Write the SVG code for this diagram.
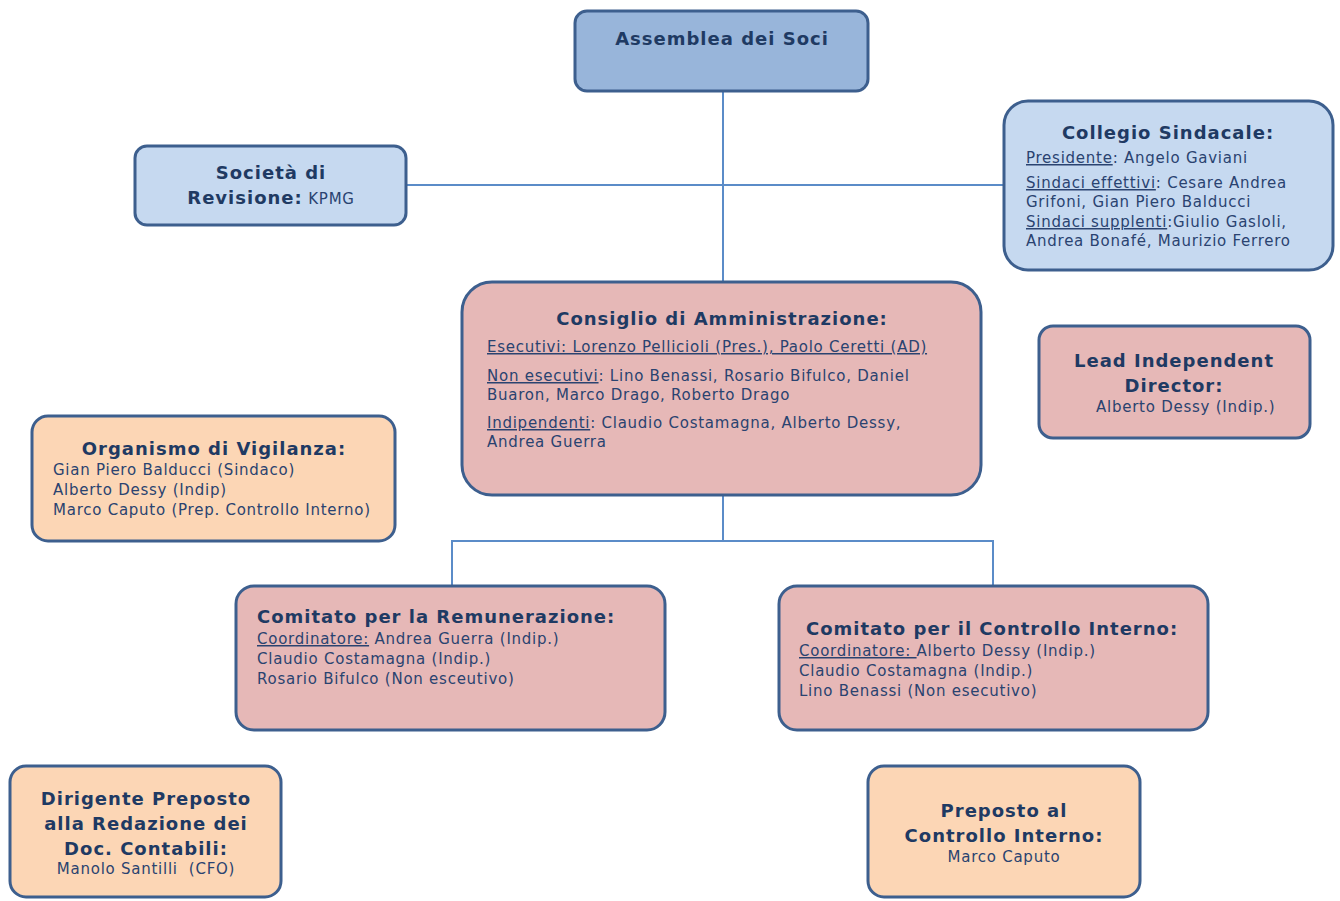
<svg xmlns="http://www.w3.org/2000/svg" width="1340" height="901" viewBox="0 0 1340 901">
<style>
.box{stroke:#3d5f8e;stroke-width:3}
.blue1{fill:#98b5da}
.blue2{fill:#c6d9f0}
.pink{fill:#e6b8b7}
.peach{fill:#fcd6b5}
.t{font-family:"DejaVu Sans",Verdana,sans-serif;fill:#1f3a63}
.b{font-weight:bold;font-size:18px;letter-spacing:1px}
.r{font-size:15px;fill:#2a4370;letter-spacing:0.75px;font-weight:normal}
.c{text-anchor:middle}
.u{text-decoration:underline}
.conn{stroke:#5b8cc8;stroke-width:2;fill:none}
</style>
<rect width="1340" height="901" fill="#ffffff"/>
<g id="connectors">
<line class="conn" x1="723" y1="91" x2="723" y2="282"/>
<line class="conn" x1="406" y1="185" x2="1004" y2="185"/>
<polyline class="conn" points="723,495 723,541"/>
<polyline class="conn" points="452,586 452,541 993,541 993,586"/>
</g>
<g id="assemblea">
<rect class="box blue1" x="575" y="11" width="293" height="80" rx="12"/>
<text class="t b c" x="722" y="45">Assemblea dei Soci</text>
</g>
<g id="societa">
<rect class="box blue2" x="135" y="146" width="271" height="79" rx="12"/>
<text class="t b c" x="271" y="179">Società di</text>
<text class="t b c" x="271" y="204">Revisione:<tspan class="r"> KPMG</tspan></text>
</g>
<g id="collegio">
<rect class="box blue2" x="1004" y="101" width="329" height="169" rx="24"/>
<text class="t b c" x="1168" y="139">Collegio Sindacale:</text>
<text class="t r" x="1026" y="163"><tspan class="u">Presidente</tspan>: Angelo Gaviani</text>
<text class="t r" x="1026" y="188"><tspan class="u">Sindaci effettivi</tspan>: Cesare Andrea</text>
<text class="t r" x="1026" y="207">Grifoni, Gian Piero Balducci</text>
<text class="t r" x="1026" y="227"><tspan class="u">Sindaci supplenti</tspan>:Giulio Gasloli,</text>
<text class="t r" x="1026" y="246">Andrea Bonafé, Maurizio Ferrero</text>
</g>
<g id="consiglio">
<rect class="box pink" x="462" y="282" width="519" height="213" rx="30"/>
<text class="t b c" x="722" y="325">Consiglio di Amministrazione:</text>
<text class="t r u" x="487" y="352">Esecutivi: Lorenzo Pellicioli (Pres.), Paolo Ceretti (AD)</text>
<text class="t r" x="487" y="381"><tspan class="u">Non esecutivi</tspan>: Lino Benassi, Rosario Bifulco, Daniel</text>
<text class="t r" x="487" y="400">Buaron, Marco Drago, Roberto Drago</text>
<text class="t r" x="487" y="428"><tspan class="u">Indipendenti</tspan>: Claudio Costamagna, Alberto Dessy,</text>
<text class="t r" x="487" y="447">Andrea Guerra</text>
</g>
<g id="lead">
<rect class="box pink" x="1039" y="326" width="271" height="112" rx="14"/>
<text class="t b c" x="1174" y="367">Lead Independent</text>
<text class="t b c" x="1174" y="392">Director:</text>
<text class="t r" x="1096" y="412">Alberto Dessy (Indip.)</text>
</g>
<g id="organismo">
<rect class="box peach" x="32" y="416" width="363" height="125" rx="16"/>
<text class="t b c" x="214" y="455">Organismo di Vigilanza:</text>
<text class="t r" x="53" y="475">Gian Piero Balducci (Sindaco)</text>
<text class="t r" x="53" y="495">Alberto Dessy (Indip)</text>
<text class="t r" x="53" y="515">Marco Caputo (Prep. Controllo Interno)</text>
</g>
<g id="remunerazione">
<rect class="box pink" x="236" y="586" width="429" height="144" rx="18"/>
<text class="t b" x="257" y="623">Comitato per la Remunerazione:</text>
<text class="t r" x="257" y="644"><tspan class="u">Coordinatore:</tspan> Andrea Guerra (Indip.)</text>
<text class="t r" x="257" y="664">Claudio Costamagna (Indip.)</text>
<text class="t r" x="257" y="684">Rosario Bifulco (Non esceutivo)</text>
</g>
<g id="controllo">
<rect class="box pink" x="779" y="586" width="429" height="144" rx="18"/>
<text class="t b" x="806" y="635">Comitato per il Controllo Interno:</text>
<text class="t r" x="799" y="656"><tspan class="u">Coordinatore: </tspan>Alberto Dessy (Indip.)</text>
<text class="t r" x="799" y="676">Claudio Costamagna (Indip.)</text>
<text class="t r" x="799" y="696">Lino Benassi (Non esecutivo)</text>
</g>
<g id="dirigente">
<rect class="box peach" x="10" y="766" width="271" height="131" rx="16"/>
<text class="t b c" x="146" y="805">Dirigente Preposto</text>
<text class="t b c" x="146" y="830">alla Redazione dei</text>
<text class="t b c" x="146" y="855">Doc. Contabili:</text>
<text class="t r c" x="146" y="874" xml:space="preserve">Manolo Santilli  (CFO)</text>
</g>
<g id="preposto">
<rect class="box peach" x="868" y="766" width="272" height="131" rx="16"/>
<text class="t b c" x="1004" y="817">Preposto al</text>
<text class="t b c" x="1004" y="842">Controllo Interno:</text>
<text class="t r c" x="1004" y="862">Marco Caputo</text>
</g>
</svg>
